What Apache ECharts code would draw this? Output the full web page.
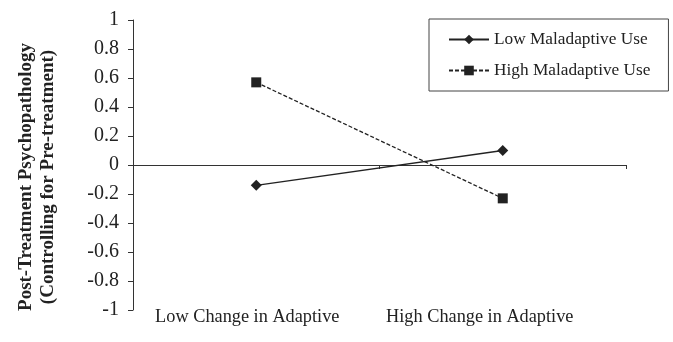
<!DOCTYPE html>
<html><head><meta charset="utf-8">
<script src="https://cdn.jsdelivr.net/npm/echarts@6/dist/echarts.min.js"></script>
<style>html,body{margin:0;padding:0;background:#fff}#c{width:673px;height:342px}</style>
</head><body><div id="c"></div>
<script>
var categories = ['Low Change in Adaptive', 'High Change in Adaptive'];
var lowMaladaptive = [-0.14, 0.10];
var highMaladaptive = [0.57, -0.23];
var seriesNames = ['Low Maladaptive Use', 'High Maladaptive Use'];
var yTicks = { min: -1, max: 1, interval: 0.2 };
var yTitle = 'Post-Treatment Psychopathology\n(Controlling for Pre-treatment)';

var FONT = 'Liberation Serif';
var chart = echarts.init(document.getElementById('c'), null, { renderer: 'canvas' });
chart.setOption({
  animation: false,
  backgroundColor: '#fff',
  grid: { left: 133, right: 47, top: 20, bottom: 32 },
  legend: {
    orient: 'vertical', left: 429, top: 19,
    padding: [12, 18, 12, 19],
    itemWidth: 40, itemHeight: 12, itemGap: 14,
    borderColor: '#444', borderWidth: 1,
    textStyle: { fontFamily: FONT, fontSize: 17.3, color: '#222' },
    data: seriesNames
  },
  xAxis: [{
    type: 'category', data: categories, boundaryGap: true,
    axisLine: { onZero: true, lineStyle: { color: '#333', width: 1 } },
    axisTick: { show: true, inside: false, length: 4, lineStyle: { color: '#333' } },
    axisLabel: { show: false }, splitLine: { show: false }
  }, {
    type: 'category', data: categories, boundaryGap: true, position: 'bottom',
    axisLine: { show: false, onZero: false }, axisTick: { show: false }, splitLine: { show: false },
    axisLabel: {
      interval: 0, hideOverlap: false,
      margin: -2, fontFamily: FONT, fontSize: 18.3, color: '#222',
      formatter: function (v, i) { return i === 0 ? '{a|' + v + '}' : '{b|' + v + '}'; },
      rich: {
        a: { fontFamily: FONT, fontSize: 18.3, color: '#222', padding: [0, 18, 0, 0] },
        b: { fontFamily: FONT, fontSize: 18.3, color: '#222', padding: [0, 46, 0, 0] }
      }
    }
  }],
  yAxis: {
    type: 'value', min: yTicks.min, max: yTicks.max, interval: yTicks.interval,
    axisLine: { show: true, lineStyle: { color: '#333', width: 1 } },
    axisTick: { show: true, length: 5, lineStyle: { color: '#333' } },
    splitLine: { show: false },
    axisLabel: { margin: 14, fontFamily: FONT, fontSize: 20, color: '#222',
      formatter: function (v) { return String(Math.round(v * 10) / 10); } },
    name: yTitle, nameLocation: 'middle', nameGap: 74, nameRotate: 90,
    nameTextStyle: { fontFamily: FONT, fontSize: 19, fontWeight: 'bold', color: '#222', lineHeight: 22, padding: [0, 24, 0, 0] }
  },
  series: [{
    name: seriesNames[0], type: 'line', data: lowMaladaptive,
    symbol: 'diamond', symbolSize: 11,
    lineStyle: { color: '#222', width: 1.3, type: 'solid' },
    itemStyle: { color: '#222' }
  }, {
    name: seriesNames[1], type: 'line', data: highMaladaptive,
    symbol: 'rect', symbolSize: 10,
    lineStyle: { color: '#222', width: 1.3, type: [4, 2] },
    itemStyle: { color: '#222' }
  }]
});
</script></body></html>
